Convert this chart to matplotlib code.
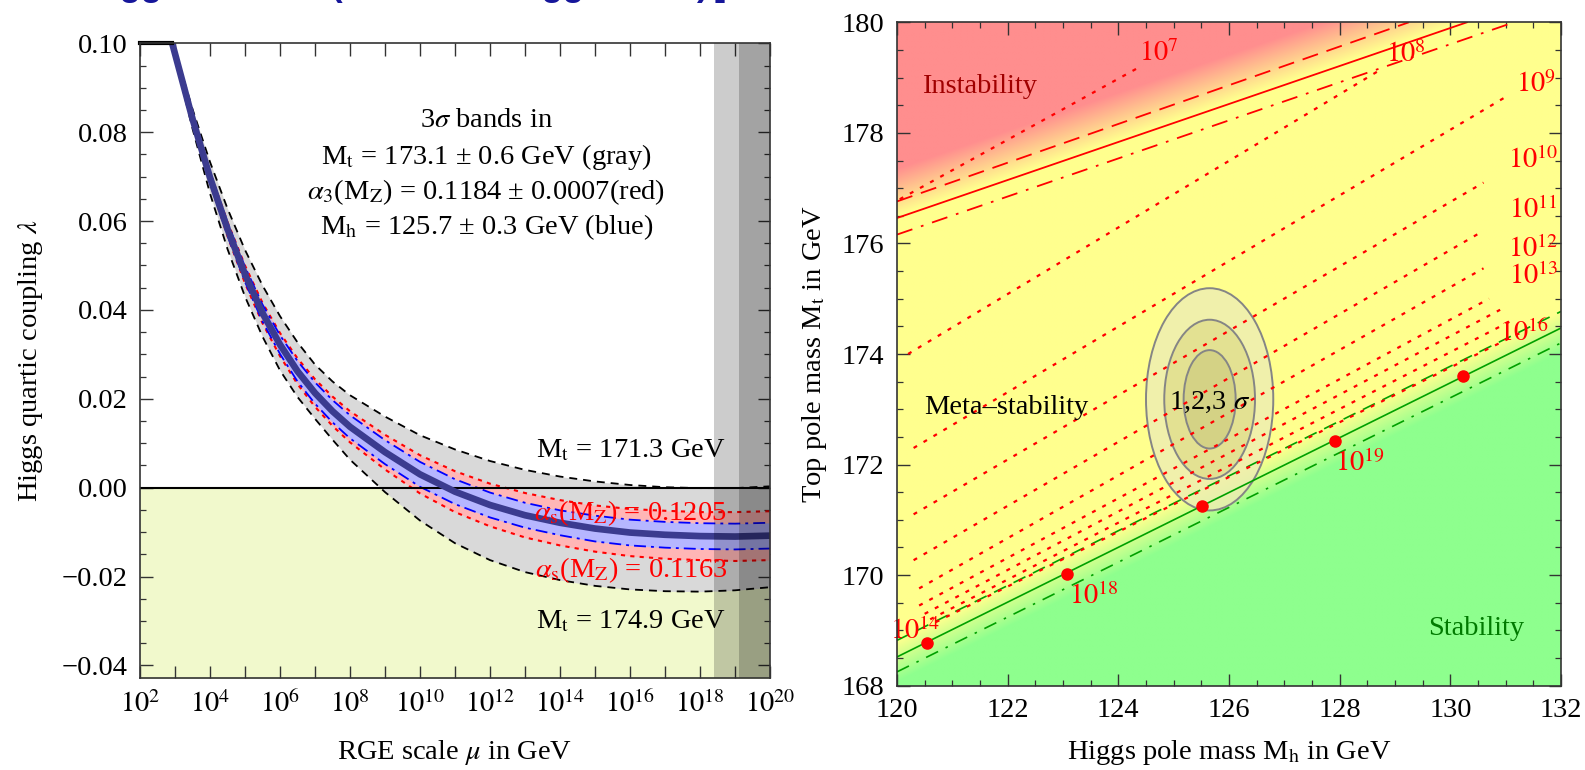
import numpy as np
import matplotlib
matplotlib.use("Agg")
import matplotlib.pyplot as plt
from matplotlib.patches import Ellipse
from matplotlib.ticker import MultipleLocator, NullLocator

plt.rcParams["font.family"] = ["Liberation Serif", "DejaVu Serif"]
plt.rcParams["mathtext.fontset"] = "stix"

FS = 20.5
W, H = 1585, 770

# ---------------------------------------------------------------- left panel data
# log10(mu / GeV) grid and lambda(mu) for the central value and the 3 sigma bands
LOG_MU = [2.92, 3.5, 4, 4.5, 5, 5.5, 6, 6.5, 7, 7.5, 8, 9, 10, 11, 12, 13,
          14, 15, 16, 17, 18, 19, 20]
LAMBDA_C = [.1000, .0830, .0698, .0582, .0480, .0393, .0322, .0262, .0213,
            .0172, .0137, .0080, .0030, -.0009, -.0039, -.0062, -.0079,
            -.0092, -.0101, -.0106, -.0109, -.0110, -.0108]
MT_HI = [.1006, .0852, .0733, .0628, .0535, .0455, .0386, .0327, .0277, .0239,
         .0208, .0160, .0118, .0086, .0060, .0040, .0025, .0014, .0006, .0001,
         -.0001, -.0001, .0003]          # Mt = 171.3 GeV
MT_LO = [.0994, .0808, .0662, .0537, .0430, .0340, .0264, .0204, .0155, .0108,
         .0063, -.0010, -.0074, -.0125, -.0163, -.0190, -.0208, -.0221,
         -.0229, -.0233, -.0234, -.0231, -.0224]   # Mt = 174.9 GeV
AS_HI = [.1003, .0838, .0710, .0598, .0500, .0416, .0348, .0291, .0244, .0205,
         .0172, .0119, .0073, .0037, .0009, -.0012, -.0028, -.0040, -.0048,
         -.0052, -.0055, -.0055, -.0053]  # alpha_s = 0.1205
AS_LO = [.0997, .0822, .0686, .0566, .0460, .0370, .0296, .0233, .0182, .0139,
         .0102, .0041, -.0013, -.0055, -.0087, -.0112, -.0130, -.0144, -.0154,
         -.0160, -.0163, -.0165, -.0163]  # alpha_s = 0.1163
MH_HI = [.1003, .0838, .0710, .0597, .0497, .0412, .0343, .0285, .0237, .0197,
         .0163, .0107, .0058, .0019, -.0011, -.0034, -.0051, -.0063, -.0072,
         -.0077, -.0080, -.0081, -.0079]
MH_LO = [.0997, .0822, .0686, .0567, .0463, .0374, .0301, .0239, .0189, .0147,
         .0111, .0053, .0002, -.0037, -.0067, -.0090, -.0107, -.0121, -.0130,
         -.0135, -.0138, -.0139, -.0137]
PLANCK_BANDS = [(18.4, 20.0), (19.1, 20.0)]   # log10 mu ranges of gray vertical bands

# ---------------------------------------------------------------- right panel data
INST_MH, INST_MT = [120.0, 130.3], [176.46, 180.0]
INST_HI_MH, INST_HI_MT = [120.0, 129.25], [176.76, 180.0]
INST_LO_MH, INST_LO_MT = [120.0, 131.15], [176.16, 180.0]
STAB_MH, STAB_MT = [120.0, 132.0], [168.52, 174.47]
STAB_HI_MT = [168.82, 174.77]
STAB_LO_MT = [168.25, 174.20]

# instability-scale contours (dotted): start and end point
CONT_MH0 = [120.05, 120.2, 120.3, 120.3, 120.3, 120.4, 120.4, 120.5, 120.6, 120.7]
CONT_MT0 = [176.8, 174.0, 172.3, 171.1, 170.27, 169.76, 169.45, 169.3, 169.2, 169.15]
CONT_MH1 = [124.4, 128.75, 131.0, 130.6, 130.55, 130.6, 130.7, 130.9, 131.1, 131.3]
CONT_MT1 = [179.2, 179.15, 178.65, 177.1, 176.2, 175.55, 175.0, 174.8, 174.6, 174.4]

# labels of the contours (exponent of 10, position)
LAB_EXP = [7, 8, 9, 10, 11, 12, 13, 16, 14, 18, 19]
LAB_MH = [124.73, 129.2, 131.55, 131.5, 131.5, 131.5, 131.5, 131.33, 120.33, 123.55, 128.37]
LAB_MT = [179.44, 179.41, 178.87, 177.51, 176.61, 175.89, 175.40, 174.38, 168.98, 169.61, 172.02]

DOT_MH = [120.55, 123.08, 125.52, 127.91, 130.23]
DOT_MT = [168.77, 170.02, 171.25, 172.43, 173.61]

ELL_CENTER = (125.65, 173.18)
ELL_A = [1.15, 0.82, 0.47]
ELL_B = [2.01, 1.44, 0.89]
ELL_FACE = [(0.93, 0.93, 0.70, 0.8), (0.88, 0.87, 0.55, 0.8), (0.82, 0.81, 0.51, 0.8)]

RED = np.array([255, 142, 142]) / 255
YEL = np.array([255, 255, 142]) / 255
GRN = np.array([142, 255, 142]) / 255

fig = plt.figure(figsize=(W / 100, H / 100), dpi=100)

# --------------------------------------------------------------------- left
ax1 = fig.add_axes([140 / W, 1 - 678.3 / H, 630 / W, 635 / H])
x = 10.0 ** np.array(LOG_MU)
ax1.fill_between([1e2, 1e20], -0.05, 0, color="#f1f9cc", lw=0, zorder=0)
ax1.fill_between(x, MT_LO, MT_HI, color="#d9d9d9", lw=0, zorder=1)
ax1.fill_between(x, AS_LO, AS_HI, color="#ffb6b6", lw=0, zorder=2)
ax1.fill_between(x, MH_LO, MH_HI, color="#b6b6ff", lw=0, zorder=3)
for y in (MT_HI, MT_LO):
    ax1.plot(x, y, color="k", lw=1.3, dashes=(4.4, 3.3), zorder=4)
for y in (AS_HI, AS_LO):
    ax1.plot(x, y, color="red", lw=1.5, dashes=(2.0, 2.5), zorder=4)
for y in (MH_HI, MH_LO):
    ax1.plot(x, y, color="blue", lw=1.3, dashes=(6.6, 2.8, 1.6, 2.8), zorder=4)
ax1.axhline(0, color="k", lw=1.5, zorder=4.5)
ax1.plot(x, LAMBDA_C, color="#3b3b8f", lw=4.8, zorder=5)
ax1.plot([1e2, x[0]], [0.1, 0.1], color="k", lw=3, zorder=6, clip_on=False)
for lo, hi in PLANCK_BANDS:
    ax1.axvspan(10 ** lo, 10 ** hi, color="k", alpha=0.2, lw=0, zorder=7)

ax1.set_xscale("log")
ax1.set_xlim(1e2, 1e20)
ax1.set_ylim(-0.0429, 0.10)
ax1.set_xticks([10.0 ** k for k in range(2, 21)])
ax1.set_xticklabels([rf"$10^{{{k}}}$" if k % 2 == 0 else "" for k in range(2, 21)])
ax1.xaxis.set_minor_locator(NullLocator())
yt = [-0.04, -0.02, 0.0, 0.02, 0.04, 0.06, 0.08, 0.10]
ax1.set_yticks(yt)
ax1.set_yticklabels([f"{v:.2f}".replace("-", "\u2212") for v in yt])
ax1.yaxis.set_minor_locator(MultipleLocator(0.005))
ax1.set_ylabel(r"Higgs quartic coupling $\lambda$", fontsize=FS, labelpad=12)

xc = 10 ** 11.9
ax1.text(xc, 0.0827, "3$\\sigma$ bands in", fontsize=FS, ha="center", va="center", zorder=8)
ax1.text(xc, 0.0744, "M$_\\mathrm{t}$ = 173.1 ± 0.6 GeV (gray)", fontsize=FS,
         ha="center", va="center", zorder=8)
ax1.text(xc, 0.0666, "$\\alpha_3$(M$_\\mathrm{Z}$) = 0.1184 ± 0.0007(red)", fontsize=FS,
         ha="center", va="center", zorder=8)
ax1.text(xc, 0.0587, "M$_\\mathrm{h}$ = 125.7 ± 0.3 GeV (blue)", fontsize=FS,
         ha="center", va="center", zorder=8)
ax1.text(10 ** 16.02, 0.0084, "M$_\\mathrm{t}$ = 171.3 GeV", fontsize=FS, ha="center", va="center", zorder=8)
ax1.text(10 ** 16.02, -0.0302, "M$_\\mathrm{t}$ = 174.9 GeV", fontsize=FS, ha="center", va="center", zorder=8)
ax1.text(10 ** 16.02, -0.0058, "$\\alpha_\\mathrm{s}$(M$_\\mathrm{Z}$) = 0.1205", fontsize=FS,
         color="red", ha="center", va="center", zorder=8)
ax1.text(10 ** 16.02, -0.0186, "$\\alpha_\\mathrm{s}$(M$_\\mathrm{Z}$) = 0.1163", fontsize=FS,
         color="red", ha="center", va="center", zorder=8)

# --------------------------------------------------------------------- right
ax2 = fig.add_axes([897 / W, 1 - 685.7 / H, 664 / W, 663.4 / H])
mh = np.linspace(120, 132, 600)
mt = np.linspace(168, 180, 600)
MHg, MTg = np.meshgrid(mh, mt)
s_inst = (INST_MT[1] - INST_MT[0]) / (INST_MH[1] - INST_MH[0])
s_stab = (STAB_MT[1] - STAB_MT[0]) / (STAB_MH[1] - STAB_MH[0])
d_inst = MTg - (INST_MT[0] + s_inst * (MHg - INST_MH[0]))
d_stab = (STAB_MT[0] + s_stab * (MHg - STAB_MH[0])) - MTg
wr = np.clip((d_inst - 0.05) / 0.85, 0, 1)[..., None]
wg = np.clip((d_stab + 0.3) / 0.75, 0, 1)[..., None]
rgb = YEL * (1 - wr - wg) + RED * wr + GRN * wg
ax2.imshow(np.clip(rgb, 0, 1), extent=[120, 132, 168, 180], origin="lower",
           aspect="auto", interpolation="bilinear", zorder=0)

for a, b, fc in zip(ELL_A, ELL_B, ELL_FACE):
    ax2.add_patch(Ellipse(ELL_CENTER, 2 * a, 2 * b, facecolor=fc,
                          edgecolor="#858585", lw=1.4, zorder=2))

ax2.plot(INST_MH, INST_MT, color="red", lw=1.3, zorder=3)
ax2.plot(INST_HI_MH, INST_HI_MT, color="red", lw=1.3, dashes=(9, 5), zorder=3)
ax2.plot(INST_LO_MH, INST_LO_MT, color="red", lw=1.3, dashes=(9, 5, 1.5, 5), zorder=3)
ax2.plot(STAB_MH, STAB_MT, color="#00a000", lw=1.2, zorder=3)
ax2.plot(STAB_MH, STAB_HI_MT, color="#00a000", lw=1.2, dashes=(8, 5), zorder=3)
ax2.plot(STAB_MH, STAB_LO_MT, color="#00a000", lw=1.2, dashes=(8, 5, 1.5, 5), zorder=3)
for x0, y0, x1, y1 in zip(CONT_MH0, CONT_MT0, CONT_MH1, CONT_MT1):
    ax2.plot([x0, x1], [y0, y1], color="red", lw=1.6, dashes=(1.8, 3.4), zorder=4)
ax2.plot(DOT_MH, DOT_MT, "o", color="red", ms=8, zorder=5)
for e, xm, ym in zip(LAB_EXP, LAB_MH, LAB_MT):
    ax2.text(xm, ym, rf"$10^{{{e}}}$", color="red", fontsize=FS, ha="center",
             va="center", zorder=6, clip_on=False)

ax2.text(120.46, 178.84, "Instability", color="#a00000", fontsize=FS, ha="left", va="center", zorder=6)
ax2.text(120.49, 173.04, "Meta\u2013stability", color="k", fontsize=FS, ha="left", va="center", zorder=6)
ax2.text(129.6, 169.04, "Stability", color="#007a00", fontsize=FS, ha="left", va="center", zorder=6)
ax2.text(125.65, 173.13, "1,2,3 $\\sigma$", color="k", fontsize=FS, ha="center", va="center", zorder=6)

ax2.set_xlim(120, 132)
ax2.set_ylim(168, 180)
ax2.xaxis.set_major_locator(MultipleLocator(2))
ax2.xaxis.set_minor_locator(MultipleLocator(0.5))
ax2.yaxis.set_major_locator(MultipleLocator(2))
ax2.yaxis.set_minor_locator(MultipleLocator(0.5))
ax2.set_ylabel(r"Top pole mass M$_\mathrm{t}$ in GeV", fontsize=FS, labelpad=9)

for ax in (ax1, ax2):
    ax.tick_params(which="both", direction="in", top=True, right=True,
                   labelsize=FS, pad=9, color="#333333")
    ax.tick_params(which="major", length=9, width=1.0)
    ax.tick_params(which="minor", length=4.5, width=0.9)
    for sp in ax.spines.values():
        sp.set_color("#333333")
        sp.set_linewidth(1.2)
        sp.set_zorder(9)

# x axis titles sit on one common baseline near the bottom edge (as in the slide)
fig.text(455 / W, 1 - 759 / H, r"RGE scale $\mu$ in GeV", fontsize=FS,
         ha="center", va="baseline")
fig.text(1229 / W, 1 - 759 / H, r"Higgs pole mass M$_\mathrm{h}$ in GeV", fontsize=FS,
         ha="center", va="baseline")

# cropped slide title at the very top: only the descenders are visible
TITLE_BITS = [("Higgs", 86), ("(", 330), ("Higgs", 508), (")", 697), ("]", 715)]
for txt, px in TITLE_BITS:
    fig.text(px / W, 1 + 4.5 / H, txt, fontsize=25, fontweight="bold",
             color="#16169a", family="Liberation Sans", ha="left", va="baseline")

fig.savefig("out.png", dpi=100)
